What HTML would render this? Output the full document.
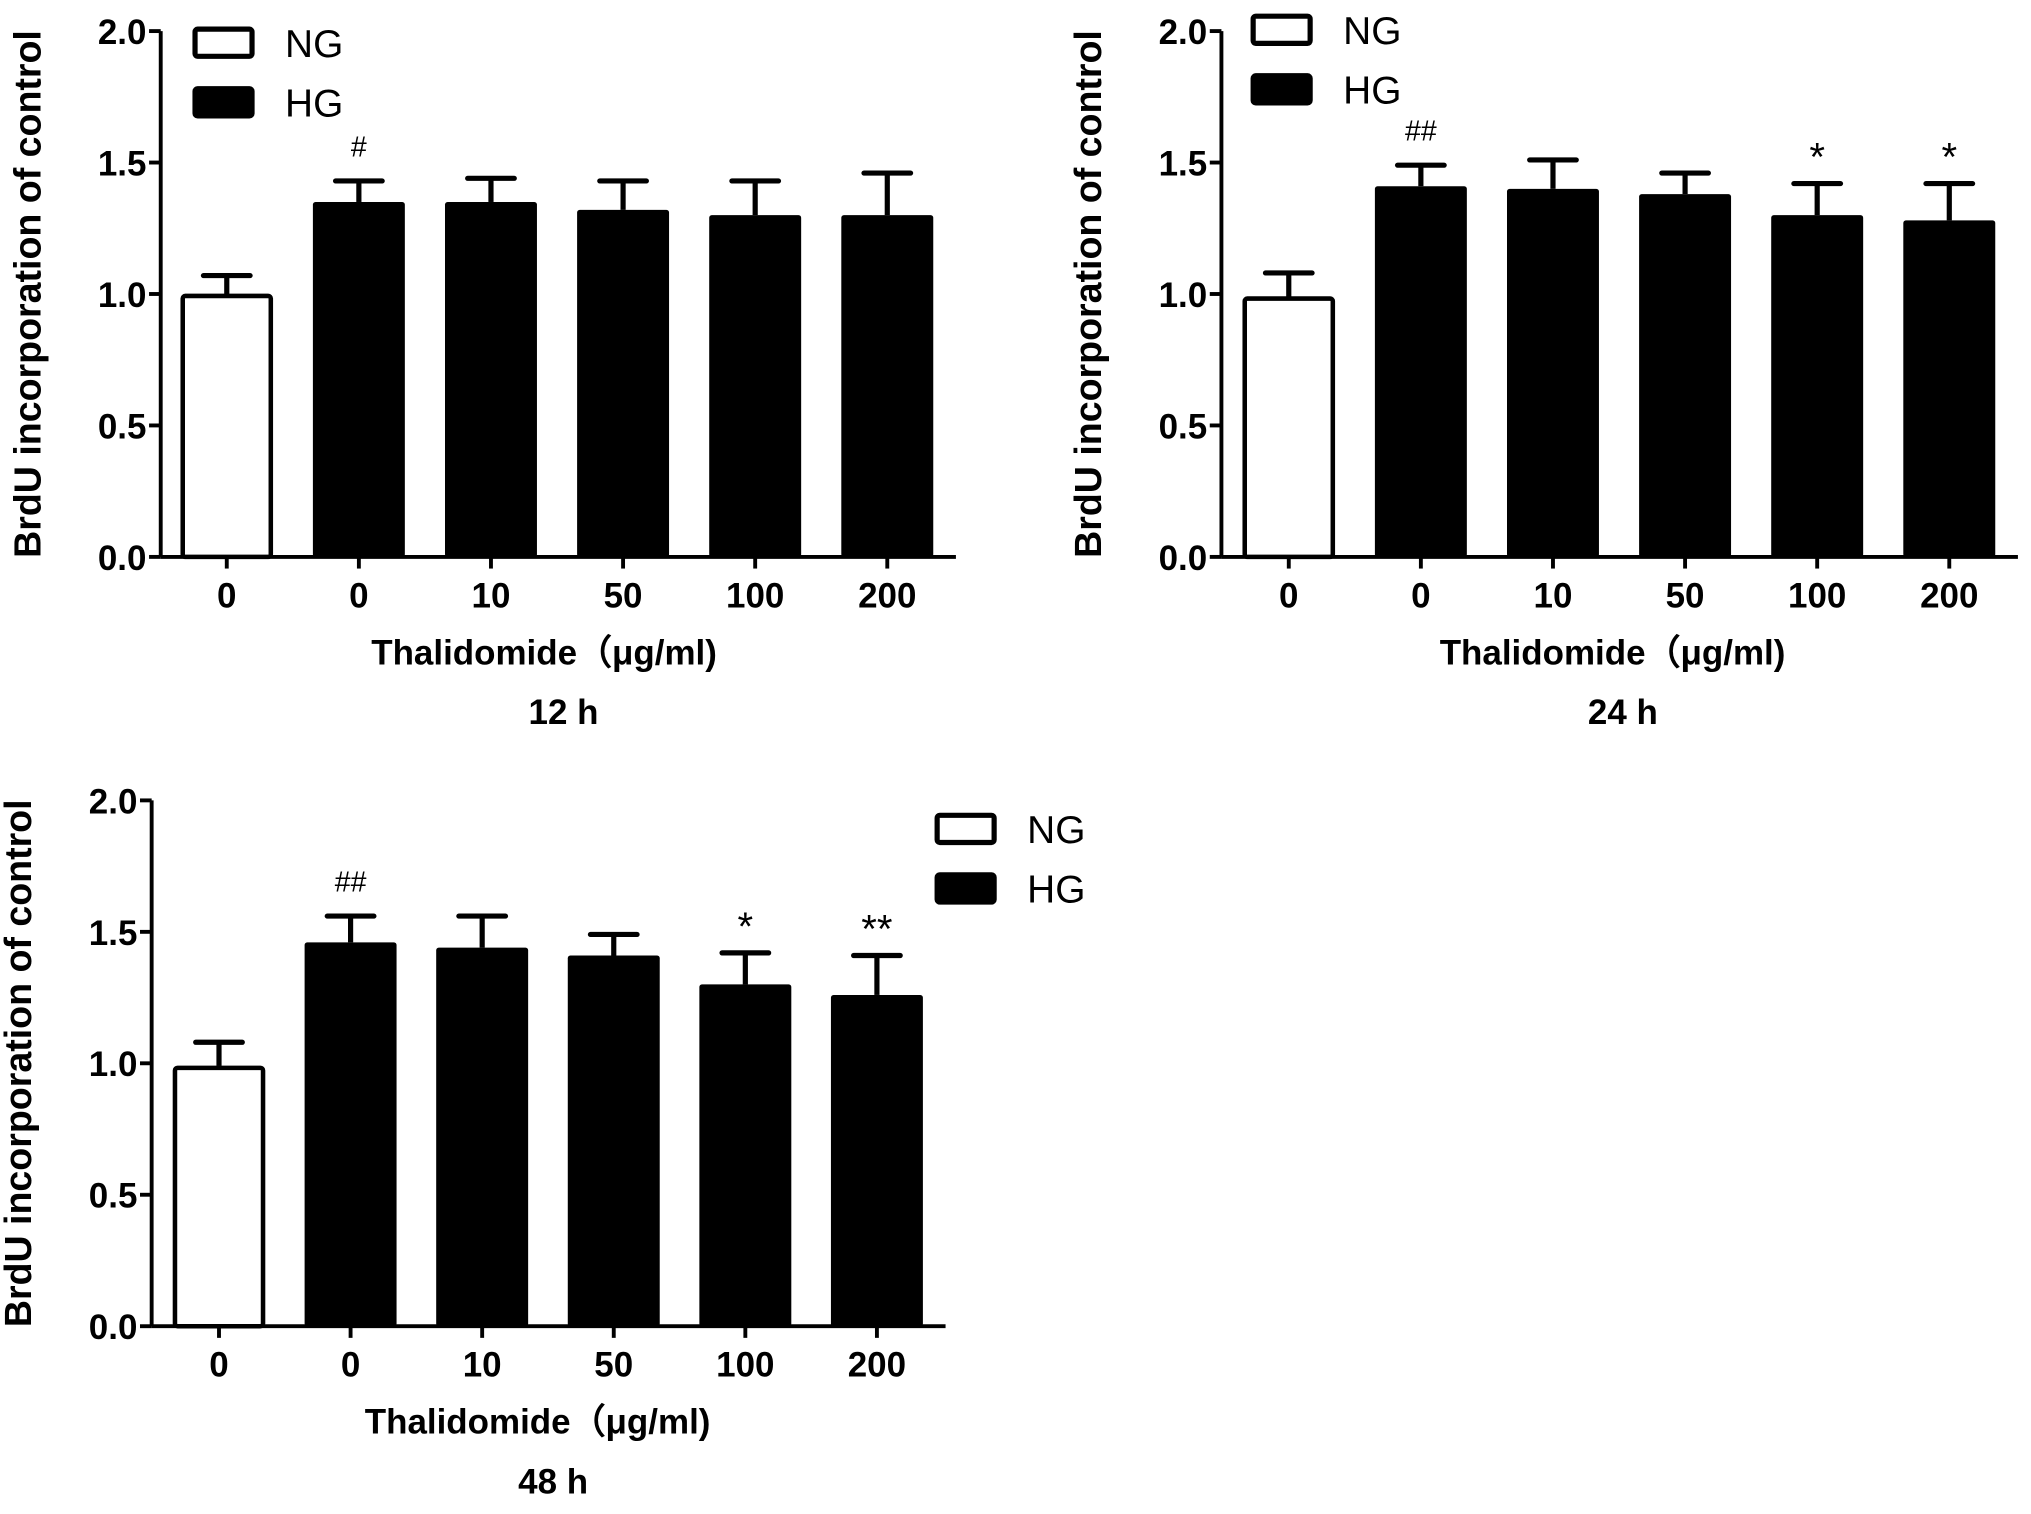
<!DOCTYPE html>
<html><head><meta charset="utf-8"><style>
html,body{margin:0;padding:0;background:#fff;}
svg{display:block;}
text{font-family:"Liberation Sans",Arial,sans-serif;fill:#000;}
</style></head><body>
<svg id="c" width="2031" height="1514" viewBox="0 0 1568 1169" xmlns="http://www.w3.org/2000/svg"></svg>
<script>
const categories = ["0","0","10","50","100","200"];
const groups = ["NG","HG","HG","HG","HG","HG"];
const values12 = [1.00,1.35,1.35,1.32,1.30,1.30];
const errors12 = [1.07,1.43,1.44,1.43,1.43,1.46];
const marks12 = ["","#","","","",""];
const values24 = [0.99,1.41,1.40,1.38,1.30,1.28];
const errors24 = [1.08,1.49,1.51,1.46,1.42,1.42];
const marks24 = ["","##","","","*","*"];
const values48 = [0.99,1.46,1.44,1.41,1.30,1.26];
const errors48 = [1.08,1.56,1.56,1.49,1.42,1.41];
const marks48 = ["","##","","","*","**"];
const yTicks = [0.0,0.5,1.0,1.5,2.0];
const yTickLabels = ["0.0","0.5","1.0","1.5","2.0"];

const svg = document.getElementById('c');
const NS = 'http://www.w3.org/2000/svg';
function mk(tag, attrs, parent, txt){
  const e = document.createElementNS(NS, tag);
  for (const k in attrs) e.setAttribute(k, attrs[k]);
  if (txt !== undefined) e.textContent = txt;
  (parent||svg).appendChild(e);
  return e;
}

function panel(cfg, vals, errs, marks){
  const g = mk('g', {});
  
  
  const y = v => cfg.y0 - (v/2.0)*(cfg.y0-cfg.y2);
  const x = i => cfg.x0 + cfg.first + i*cfg.step;
  const ya = mk('line', {x1:cfg.ax, y1:y(2), x2:cfg.ax, y2:y(0), stroke:'#000','stroke-width':3}, g);
  
  
  yTicks.forEach((t,i)=>{
    mk('line', {x1:cfg.ax-9, y1:y(t), x2:cfg.ax, y2:y(t), stroke:'#000','stroke-width':3}, g);
    const tl = mk('text', {x:cfg.ax-11, y:y(t)+10, 'font-size':27,'font-weight':'bold','text-anchor':'end'}, g, yTickLabels[i]);
    
    
  });
  const yt = mk('text', {transform:`translate(${cfg.ax-93},${(y(0)+y(2))/2}) rotate(-90)`, 'font-size':29,'font-weight':'bold','text-anchor':'middle'}, g, 'BrdU incorporation of control');
  
  
  const xa = mk('line', {x1:cfg.ax, y1:y(0), x2:cfg.xEnd, y2:y(0), stroke:'#000','stroke-width':3}, g);
  
  
  const bw = 71;
  vals.forEach((v,i)=>{
    const cx = x(i);
    mk('line', {x1:cx, y1:y(0), x2:cx, y2:y(0)+9, stroke:'#000','stroke-width':3}, g);
    const el = mk('line', {x1:cx, y1:y(v), x2:cx, y2:y(errs[i]), stroke:'#000','stroke-width':4}, g);
    
    
    mk('line', {x1:cx-18, y1:y(errs[i]), x2:cx+18, y2:y(errs[i]), stroke:'#000','stroke-width':4,'stroke-linecap':'round'}, g);
    const ng = groups[i]==='NG';
    const b = mk('rect', {x:cx-bw/2+ (ng?1.5:0), y:y(v)+(ng?1.5:0), width:bw-(ng?3:0), height:y(0)-y(v)-(ng?1.5:0), fill:ng?'#fff':'#000', stroke:'#000','stroke-width':ng?3.5:0, rx:2}, g);
    
    
    const xl = mk('text', {x:cx, y:y(0)+39, 'font-size':27,'font-weight':'bold','text-anchor':'middle'}, g, categories[i]);
    
    
    if (marks[i]){
      const isHash = marks[i].includes('#');
      const m = mk('text', {x:cx, y:y(errs[i])-(isHash?19:10), 'font-size':isHash?22:31,'text-anchor':'middle'}, g, marks[i]);
      
      
    }
  });
  const xt = mk('text', {x:cfg.titleX, y:y(0)+83, 'font-size':27,'font-weight':'bold','text-anchor':'middle'}, g, 'Thalidomide（μg/ml)');
  
  
  const pt = mk('text', {x:cfg.subX, y:y(0)+129, 'font-size':27,'font-weight':'bold','text-anchor':'middle'}, g, cfg.sub);
  
  
  [['NG','#fff'],['HG','#000']].forEach((L,k)=>{
    const ly = cfg.ly + k*46;
    const r = mk('rect', {x:cfg.lx+1.5, y:ly+1.5, width:44, height:21, fill:L[1], stroke:'#000','stroke-width':4, rx:2}, g);
    
    
    const t = mk('text', {x:cfg.lx+71, y:ly+23, 'font-size':30}, g, L[0]);
    
    
  });
}
panel({name:'panel-12h', ax:124, x0:124, first:51, step:102, xEnd:738, y0:430, y2:24, titleX:420, subX:435, sub:'12 h', lx:149, ly:21}, values12, errors12, marks12);
panel({name:'panel-24h', ax:943, x0:943, first:52, step:102, xEnd:1558, y0:430, y2:24, titleX:1245, subX:1253, sub:'24 h', lx:966, ly:11}, values24, errors24, marks24);
panel({name:'panel-48h', ax:117, x0:117, first:52, step:101.6, xEnd:730, y0:1024, y2:618, titleX:415, subX:427, sub:'48 h', lx:722, ly:628}, values48, errors48, marks48);
</script>
</body></html>
